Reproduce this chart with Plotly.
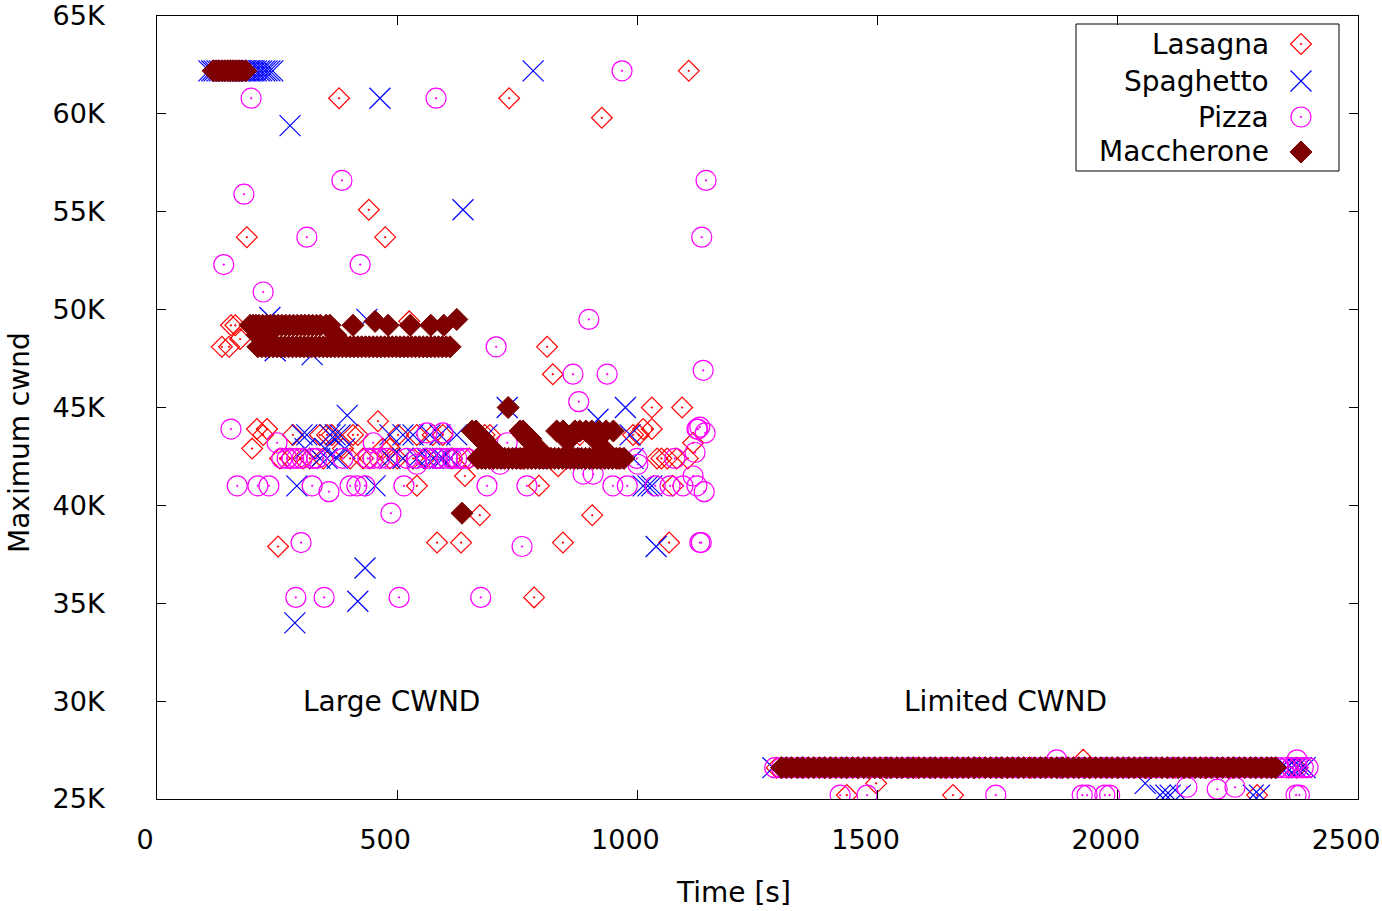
import plotly.graph_objects as go

# ---------------- data (y in thousands of bytes, x in seconds) ----------------
lasagna_rows = {
    62.2: [1107],
    60.8: [379, 733],
    59.8: [926],
    55.1: [441],
    53.7: [187, 475],
    49.4: [525],
    49.2: [154, 163],
    48.5: [173],
    48.1: [135, 150, 812],
    46.7: [824],
    45.0: [1030, 1093],
    44.3: [460],
    43.9: [208, 229, 1012, 1030],
    43.6: [221, 283, 339, 354, 364, 408, 418, 502, 541, 574, 595, 682, 693, 762, 880, 991, 1003],
    43.2: [1116],
    42.9: [198, 387, 470, 485],
    42.4: [256, 277, 304, 318, 346, 402, 429, 443, 485, 500, 533, 558, 614, 650, 700, 760,
           820, 900, 960, 1041, 1050, 1062, 1082, 1105],
    42.0: [835],
    41.5: [641],
    41.0: [541, 795, 1074],
    39.5: [672, 906],
    38.1: [583, 633, 845, 1066],
    37.9: [252],
    35.3: [785],
    27.0: [1928],
    26.6: [1290, 1345, 1400, 1460, 1520, 1580, 1640, 1700, 1760, 1820, 1880, 1940, 2000,
           2060, 2120, 2180, 2240, 2300, 2355, 2373],
    25.8: [1497],
    25.2: [1436, 1657, 2290],
}

spaghetto_rows = {
    62.2: [108, 114, 119, 125, 130, 136, 141, 147, 152, 158, 163, 169, 174, 180, 185, 191,
           196, 202, 207, 213, 218, 224, 229, 235, 241, 783],
    60.8: [464],
    59.4: [277],
    55.1: [637],
    49.6: [235],
    49.5: [437],
    48.1: [262],
    47.9: [246],
    47.7: [323],
    45.0: [729, 975],
    44.6: [396],
    44.4: [918],
    43.6: [302, 312, 360, 371, 381, 485, 512, 533, 568, 589, 624, 687, 985],
    42.9: [308, 350, 391],
    42.4: [339, 354, 375, 485, 512, 541, 562, 575, 589, 595, 610, 699, 760, 830, 900, 991],
    41.0: [291, 454, 1012, 1022, 1030],
    37.9: [1039],
    36.8: [433],
    35.1: [418],
    34.0: [287],
    26.6: [1282, 1320, 1365, 1410, 1455, 1500, 1545, 1590, 1635, 1680, 1725, 1770, 1815,
           1860, 1905, 1950, 1995, 2040, 2085, 2130, 2175, 2220, 2265, 2310, 2340, 2352,
           2362, 2372, 2382, 2390],
    25.8: [2057],
    25.2: [2088, 2100, 2109, 2130, 2282, 2295],
}

pizza_rows = {
    62.2: [968],
    60.8: [196, 581],
    56.6: [385, 1143],
    55.9: [181],
    53.7: [312, 1134],
    52.3: [139, 423],
    50.9: [221],
    49.5: [899],
    48.1: [706],
    46.9: [1137],
    46.7: [866, 937],
    45.3: [878],
    44.0: [1130],
    43.9: [154, 1124, 1126],
    43.7: [562, 595, 1141],
    43.2: [250, 450, 729],
    42.7: [1120],
    42.4: [260, 271, 281, 291, 302, 325, 333, 387, 439, 450, 464, 479, 520, 541, 562, 579,
           589, 604, 614, 624, 635, 645, 718, 749, 800, 860, 940, 999, 1078],
    42.1: [541, 714, 1001],
    41.6: [887, 908],
    41.5: [1116],
    41.0: [167, 210, 233, 323, 402, 416, 433, 514, 687, 770, 949, 979, 1037, 1068, 1095, 1124],
    40.7: [358, 1139],
    39.6: [487],
    38.1: [300, 1130, 1133],
    37.9: [760],
    35.3: [289, 348, 504, 674],
    27.0: [1873, 2373],
    26.6: [1286, 1300, 1318, 1335, 1352, 1370, 1388, 1405, 1423, 1440, 1458, 1476, 1493,
           1510, 1528, 1546, 1563, 1580, 1598, 1616, 1633, 1650, 1668, 1686, 1703, 1720,
           1738, 1756, 1773, 1790, 1808, 1826, 1843, 1860, 1878, 1896, 1913, 1930, 1948,
           1966, 1983, 2000, 2018, 2036, 2053, 2070, 2088, 2106, 2123, 2140, 2158, 2176,
           2193, 2210, 2228, 2246, 2263, 2280, 2298, 2316, 2333, 2350, 2362, 2374, 2386, 2396],
    25.6: [2144, 2244],
    25.5: [2207],
    25.2: [1422, 1478, 1746, 1926, 1936, 1973, 1983, 2371, 2378],
}

maccherone_rows = {
    62.2: [117, 123, 129, 135, 141, 147, 153, 159, 165, 171, 177, 185],
    49.5: [624],
    49.4: [454],
    49.2: [194, 200, 206, 212, 220, 228, 236, 244, 252, 260, 268, 276, 284, 292, 300, 308,
           316, 324, 332, 340, 352, 360, 408, 481, 527, 570, 597],
    48.7: [208, 229, 372],
    48.1: [210, 218, 226, 234, 242, 250, 258, 266, 274, 282, 290, 298, 306, 314, 322, 330,
           338, 346, 354, 362, 370, 378, 386, 394, 402, 410, 418, 426, 434, 442, 450, 458,
           466, 474, 482, 490, 498, 506, 514, 522, 530, 538, 546, 554, 562, 570, 578, 586,
           594, 602, 610],
    45.0: [731],
    43.8: [656, 664, 756, 762, 832, 845, 870, 880, 893, 905, 920, 935, 950],
    43.4: [672, 680, 770, 778, 850, 860, 910],
    42.9: [690, 698, 785, 795, 930],
    42.4: [668, 676, 684, 692, 700, 708, 716, 724, 732, 740, 748, 756, 764, 772, 780, 788,
           796, 804, 812, 820, 828, 836, 844, 852, 860, 868, 876, 884, 892, 900, 908, 916,
           924, 932, 940, 948, 956, 964, 972],
    39.6: [635],
    26.6: [1300, 1310, 1321, 1333, 1344, 1356, 1367, 1379, 1390, 1402, 1413, 1425, 1436,
           1448, 1459, 1471, 1482, 1494, 1505, 1517, 1528, 1540, 1551, 1563, 1574, 1586,
           1597, 1609, 1620, 1632, 1643, 1655, 1666, 1678, 1689, 1701, 1712, 1724, 1735,
           1747, 1758, 1770, 1781, 1793, 1804, 1816, 1827, 1839, 1850, 1862, 1873, 1885,
           1896, 1908, 1919, 1931, 1942, 1954, 1965, 1977, 1988, 2000, 2011, 2023, 2034,
           2046, 2057, 2069, 2080, 2092, 2103, 2115, 2126, 2138, 2149, 2161, 2172, 2184,
           2195, 2207, 2218, 2230, 2241, 2253, 2264, 2276, 2287, 2299, 2310, 2320, 2328],
}

series_names = ["Lasagna", "Spaghetto", "Pizza", "Maccherone"]
x_ticks = [0, 500, 1000, 1500, 2000, 2500]
y_ticks = [25, 30, 35, 40, 45, 50, 55, 60, 65]

# ---------------- styling ----------------
FONT = "DejaVu Sans"
FS = 28
TFS = 27
styles = {
    "Lasagna": dict(symbol="diamond-open-dot", size=16, color="#ff0000", lw=1.2),
    "Spaghetto": dict(symbol="x-thin-open", size=21, color="#0000ff", lw=1.2),
    "Pizza": dict(symbol="circle-open-dot", size=20, color="#ff00ff", lw=1.2),
    "Maccherone": dict(symbol="diamond", size=17, color="#7f0000", lw=1),
}


def unpack(rows):
    xs, ys = [], []
    for yv, xlist in rows.items():
        for xv in xlist:
            xs.append(xv)
            ys.append(yv)
    return xs, ys


fig = go.Figure()
for name, rows in zip(series_names, [lasagna_rows, spaghetto_rows, pizza_rows, maccherone_rows]):
    xs, ys = unpack(rows)
    st = styles[name]
    fig.add_trace(go.Scatter(
        x=xs, y=ys, mode="markers", name=name, showlegend=False,
        marker=dict(symbol=st["symbol"], size=st["size"], color=st["color"],
                    line=dict(width=st["lw"], color=st["color"])),
    ))

# ---------------- custom gnuplot-style key (text right, symbol right) ----------------
L, R, T, B = 157, 1358, 16, 799
W, H = R - L, B - T


def px(xp):
    return (xp - L) / W


def py(yp):
    return (B - yp) / H


key_rows_px = [44, 81, 117, 152]
for name, yp in zip(series_names, key_rows_px):
    st = styles[name]
    fig.add_trace(go.Scatter(
        x=[px(1301)], y=[py(yp)], xaxis="x2", yaxis="y2", mode="markers", showlegend=False,
        hoverinfo="skip",
        marker=dict(symbol=st["symbol"], size=st["size"], color=st["color"],
                    line=dict(width=st["lw"], color=st["color"])),
    ))

annotations = []
for name, yp in zip(series_names, key_rows_px):
    annotations.append(dict(
        text=name, xref="paper", yref="paper", x=px(1271), y=py(yp),
        xanchor="right", yanchor="middle", showarrow=False,
        font=dict(family=FONT, size=FS, color="black"),
    ))

annotations += [
    dict(text="Large CWND", x=300, y=30, xref="x", yref="y", xanchor="left",
         yanchor="middle", showarrow=False, font=dict(family=FONT, size=FS, color="black")),
    dict(text="Limited CWND", x=1550, y=30, xref="x", yref="y", xanchor="left",
         yanchor="middle", showarrow=False, font=dict(family=FONT, size=FS, color="black")),
    dict(text="Time [s]", xref="paper", yref="paper", x=px(733), y=py(892),
         xanchor="center", yanchor="middle", showarrow=False,
         font=dict(family=FONT, size=FS, color="black")),
    dict(text="Maximum cwnd", xref="paper", yref="paper", x=px(19), y=py(443),
         xanchor="center", yanchor="middle", textangle=-90, showarrow=False,
         font=dict(family=FONT, size=FS, color="black")),
]

shapes = [dict(type="rect", xref="paper", yref="paper", x0=px(1076), x1=px(1339),
               y0=py(171), y1=py(24), line=dict(color="black", width=1))]

fig.update_layout(
    width=1382, height=911,
    margin=dict(l=L, r=1382 - R, t=T, b=911 - B, autoexpand=False),
    paper_bgcolor="white", plot_bgcolor="white",
    font=dict(family=FONT, size=TFS, color="black"),
    showlegend=False,
    xaxis=dict(range=[0, 2500], tickvals=x_ticks, ticktext=[f"{v}" for v in x_ticks],
               ticks="inside", ticklen=9, tickwidth=1, tickcolor="black",
               showline=True, linecolor="black", linewidth=1, mirror="ticks",
               showgrid=False, zeroline=False, ticklabelstandoff=17,
               ticklabelshift=-12, ticklabeloverflow="allow", automargin=False,
               tickfont=dict(family=FONT, size=TFS, color="black")),
    yaxis=dict(range=[25, 65], tickvals=y_ticks, ticktext=[f"{v}K" for v in y_ticks],
               ticks="inside", ticklen=9, tickwidth=1, tickcolor="black",
               showline=True, linecolor="black", linewidth=1, mirror="ticks",
               showgrid=False, zeroline=False, ticklabelstandoff=46,
               ticklabeloverflow="allow", automargin=False,
               tickfont=dict(family=FONT, size=TFS, color="black")),
    xaxis2=dict(range=[0, 1], overlaying="x", visible=False, fixedrange=True),
    yaxis2=dict(range=[0, 1], overlaying="y", visible=False, fixedrange=True),
    annotations=annotations,
    shapes=shapes,
)

fig.write_html("out.html")
